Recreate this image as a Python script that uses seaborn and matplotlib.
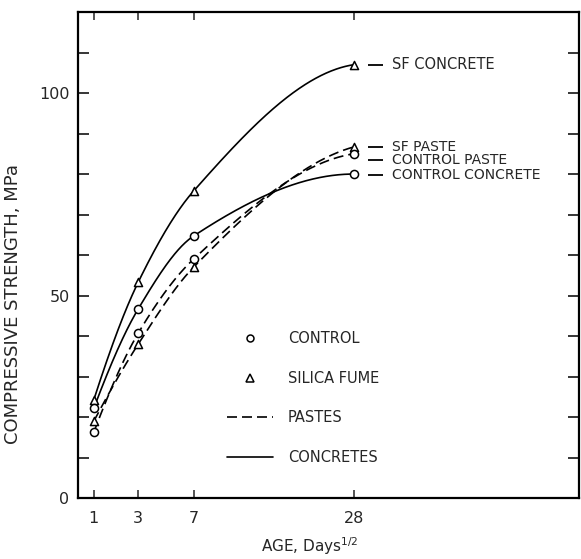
import numpy as np
import pandas as pd
import seaborn as sns
import matplotlib
matplotlib.use("Agg")
import matplotlib.pyplot as plt
from matplotlib.lines import Line2D
from matplotlib.transforms import offset_copy

# Ages in days (axis is drawn on a square-root scale)
age_days = [1, 3, 7, 28]
age_tick_labels = ["1", "3", "7", "28"]

# Compressive strength, MPa
sf_concrete = [24.3, 53.3, 75.8, 107.0]
control_concrete = [22.2, 46.7, 64.7, 80.0]
sf_paste = [19.0, 38.0, 57.0, 86.7]
control_paste = [16.3, 40.7, 59.0, 85.0]

series_names = ["SF CONCRETE", "SF PASTE", "CONTROL PASTE", "CONTROL CONCRETE"]
series_values = [sf_concrete, sf_paste, control_paste, control_concrete]
series_marker = ["^", "^", "o", "o"]
series_dashed = [False, True, True, False]


def pchip(x, y, xq):
    """Shape-preserving piecewise cubic Hermite curve (Fritsch-Carlson)."""
    x = np.asarray(x, float)
    y = np.asarray(y, float)
    h = np.diff(x)
    d = np.diff(y) / h
    m = np.zeros_like(y)
    for k in range(1, len(x) - 1):
        if d[k - 1] * d[k] > 0:
            w1 = 2 * h[k] + h[k - 1]
            w2 = h[k] + 2 * h[k - 1]
            m[k] = (w1 + w2) / (w1 / d[k - 1] + w2 / d[k])
    m[0] = ((2 * h[0] + h[1]) * d[0] - h[0] * d[1]) / (h[0] + h[1])
    if np.sign(m[0]) != np.sign(d[0]):
        m[0] = 0
    m[-1] = ((2 * h[-1] + h[-2]) * d[-1] - h[-1] * d[-2]) / (h[-1] + h[-2])
    if np.sign(m[-1]) != np.sign(d[-1]):
        m[-1] = 0
    idx = np.clip(np.searchsorted(x, xq) - 1, 0, len(h) - 1)
    t = (xq - x[idx]) / h[idx]
    h00 = 2 * t**3 - 3 * t**2 + 1
    h10 = t**3 - 2 * t**2 + t
    h01 = -2 * t**3 + 3 * t**2
    h11 = t**3 - t**2
    return (h00 * y[idx] + h10 * h[idx] * m[idx]
            + h01 * y[idx + 1] + h11 * h[idx] * m[idx + 1])


sns.set_style("ticks")
plt.rcParams["font.family"] = ["DejaVu Sans"]

fig = plt.figure(figsize=(5.81, 5.59), dpi=100)
ax = fig.add_axes([0.134, 0.109, 0.862, 0.8695])

x_pts = np.sqrt(age_days)
x_dense = np.linspace(x_pts[0], x_pts[-1], 300)

for name, vals, mk, dashed in zip(series_names, series_values, series_marker, series_dashed):
    curve = pd.DataFrame({"x": x_dense, "y": pchip(x_pts, vals, x_dense)})
    sns.lineplot(data=curve, x="x", y="y", ax=ax, color="black", lw=1.2,
                 linestyle=(0, (6, 3)) if dashed else "-", sort=False)
    pts = pd.DataFrame({"x": x_pts, "y": vals})
    sns.scatterplot(data=pts, x="x", y="y", ax=ax, marker=mk, s=34,
                    facecolor="white", edgecolor="black", linewidth=1.1, zorder=5)

# End labels, each led by a short dash
label_y = [107.0, 86.7, 83.5, 79.8]
label_size = [10.5, 10, 10, 10]
dash_tr = offset_copy(ax.transData, fig=fig, x=21.5, y=0, units="dots")
text_tr = offset_copy(ax.transData, fig=fig, x=38, y=0, units="dots")
for name, ly, fs in zip(series_names, label_y, label_size):
    ax.plot([x_pts[-1]], [ly], marker="_", ms=10.8, mew=1.3, color="black",
            transform=dash_tr, clip_on=False)
    ax.text(x_pts[-1], ly, name, transform=text_tr, fontsize=fs, va="center", ha="left")

ax.set_xlim(0.736, 9.0)
ax.set_ylim(0, 120)
ax.set_xticks(x_pts)
ax.set_xticklabels(age_tick_labels)
ax.set_yticks([0, 50, 100])
ax.set_yticks(np.arange(0, 121, 10), minor=True)

for s in ax.spines.values():
    s.set_linewidth(1.6)
    s.set_color("black")
    s.set_visible(True)

ax.tick_params(axis="x", which="both", direction="in", length=6, width=1.1,
               top=True, bottom=True, labelsize=11.5, pad=9)
ax.tick_params(axis="y", which="both", direction="in", length=8, width=1.3,
               left=True, right=True, labelsize=11.5, pad=6)

ax.set_xlabel("AGE, Days$^{1/2}$", fontsize=11)
ax.xaxis.set_label_coords(0.463, -0.077)
ax.set_ylabel("COMPRESSIVE STRENGTH, MPa", fontsize=13)
ax.yaxis.set_label_coords(-0.112, 0.40)

handles = [
    Line2D([], [], marker="o", ls="none", mfc="white", mec="black", ms=5, mew=1.1),
    Line2D([], [], marker="^", ls="none", mfc="white", mec="black", ms=5.5, mew=1.1),
    Line2D([], [], color="black", lw=1.2, ls=(0, (6, 3))),
    Line2D([], [], color="black", lw=1.2, ls="-"),
]
ax.legend(handles, ["CONTROL", "SILICA FUME", "PASTES", "CONCRETES"],
          loc="upper left", bbox_to_anchor=(0.297, 0.344), frameon=False,
          fontsize=10.5, handlelength=3.2, handletextpad=1.0,
          labelspacing=1.7, borderpad=0, borderaxespad=0)

fig.savefig("out.png", dpi=100)
